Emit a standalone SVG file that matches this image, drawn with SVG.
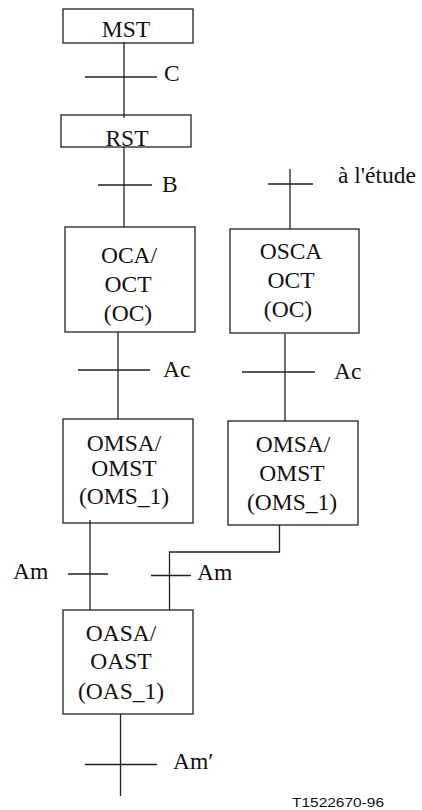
<svg xmlns="http://www.w3.org/2000/svg" width="422" height="810" viewBox="0 0 422 810">
<style>
rect.box{fill:none;stroke:#222;stroke-width:1.3}
.ln{fill:none;stroke:#222;stroke-width:1.3}
text{font-family:"Liberation Serif","Times New Roman",serif;font-size:23.5px;fill:#111}
.c{text-anchor:middle}
.ref{font-family:"Liberation Sans",Arial,sans-serif;font-size:12.5px}
</style>
<rect width="422" height="810" fill="#fff"/>
<g id="connectors">
<path class="ln" d="M124 42V118M85 77H157"/>
<path class="ln" d="M124 147V227M98 185H152"/>
<path class="ln" d="M290 169V229M268 184H313"/>
<path class="ln" d="M118 332V419M78 370H150"/>
<path class="ln" d="M285 334V421M242 372H315"/>
<path class="ln" d="M90 520V610M68 574H108"/>
<path class="ln" d="M279.5 525V552H169.5V610M151 575.5H191"/>
<path class="ln" d="M120.5 714V796M85 764.5H157"/>
</g>
<g id="MST"><rect class="box" x="63" y="9" width="130" height="34"/><text class="c" x="126" y="37">MST</text></g>
<g id="RST"><rect class="box" x="61" y="115" width="130" height="32"/><text class="c" x="127" y="146">RST</text></g>
<g id="OCA"><rect class="box" x="65" y="227" width="130" height="105"/><text class="c" x="129" y="263">OCA/</text><text class="c" x="128" y="292">OCT</text><text class="c" x="128" y="321">(OC)</text></g>
<g id="OSCA"><rect class="box" x="230" y="229" width="129" height="104"/><text class="c" x="291" y="259">OSCA</text><text class="c" x="291" y="288">OCT</text><text class="c" x="288" y="317">(OC)</text></g>
<g id="OMSA1"><rect class="box" x="63" y="419" width="130" height="104"/><text class="c" x="124" y="451">OMSA/</text><text class="c" x="124" y="476">OMST</text><text class="c" x="124" y="504">(OMS_1)</text></g>
<g id="OMSA2"><rect class="box" x="228" y="421" width="130" height="104"/><text class="c" x="293" y="452">OMSA/</text><text class="c" x="292" y="481">OMST</text><text class="c" x="292" y="510">(OMS_1)</text></g>
<g id="OASA"><rect class="box" x="63" y="610" width="130" height="104"/><text class="c" x="121" y="641">OASA/</text><text class="c" x="121" y="669">OAST</text><text class="c" x="121" y="699">(OAS_1)</text></g>
<g id="labels">
<text x="164" y="81">C</text>
<text x="162" y="192">B</text>
<text x="338" y="183">à l'étude</text>
<text x="163" y="377">Ac</text>
<text x="334" y="379">Ac</text>
<text x="13" y="579">Am</text>
<text x="197" y="580">Am</text>
<text x="173" y="769">Am′</text>
<text class="ref" x="292" y="807" textLength="92" lengthAdjust="spacingAndGlyphs">T1522670-96</text>
</g>
</svg>
